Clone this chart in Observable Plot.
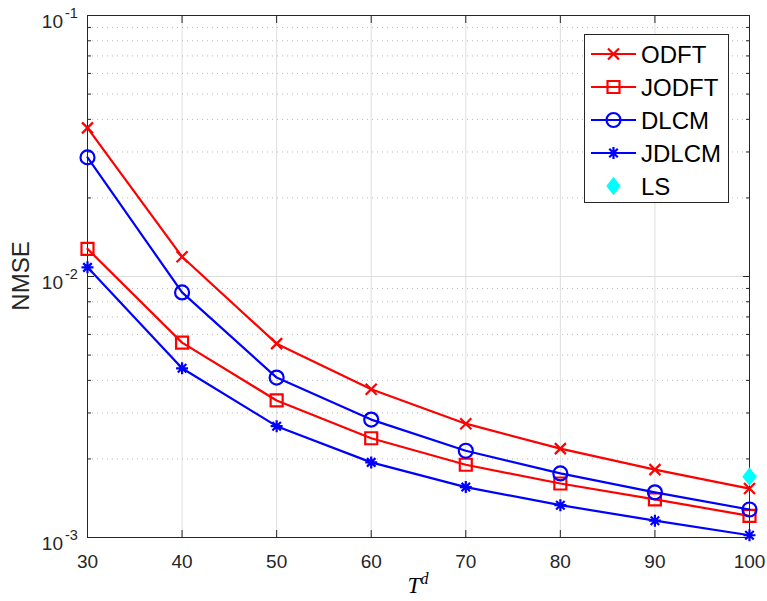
<!DOCTYPE html>
<html>
<head>
<meta charset="utf-8">
<script src="https://cdn.jsdelivr.net/npm/d3@7"></script>
<script src="https://cdn.jsdelivr.net/npm/@observablehq/plot@0.6"></script>
<style>
  html, body { margin: 0; padding: 0; background: #fff; overflow: hidden; }
  #chart { width: 767px; height: 601px; }
</style>
</head>
<body>
<div id="chart"></div>
<script>
// ---- data ----
const tdValues = [30, 40, 50, 60, 70, 80, 90, 100];
const odft  = [0.0371, 0.0119, 0.00553, 0.00370, 0.00273, 0.00219, 0.00182, 0.00154];
const jodft = [0.01276, 0.00558, 0.00335, 0.00240, 0.00190, 0.00161, 0.00140, 0.00121];
const dlcm  = [0.0286, 0.00869, 0.00410, 0.00283, 0.00215, 0.00176, 0.00149, 0.00128];
const jdlcm = [0.01084, 0.00445, 0.00267, 0.00194, 0.00156, 0.00133, 0.00116, 0.00102];
const lsX = [100];
const lsY = [0.00171];
const seriesNames = ["ODFT", "JODFT", "DLCM", "JDLCM", "LS"];
const xTicks = [30, 40, 50, 60, 70, 80, 90, 100];
const yMajor = [1e-3, 1e-2, 1e-1];
const yMinor = [2,3,4,5,6,7,8,9].flatMap(m => [m * 1e-3, m * 1e-2]);

// ---- symbols ----
const rad = s => Math.sqrt(s / Math.PI);
const symCross = {draw(c, s) { const a = rad(s); c.moveTo(-a,-a); c.lineTo(a,a); c.moveTo(-a,a); c.lineTo(a,-a); }};
const symSquare = {draw(c, s) { const a = rad(s); c.moveTo(-a,-a); c.lineTo(a,-a); c.lineTo(a,a); c.lineTo(-a,a); c.closePath(); }};
const symCircle = {draw(c, s) { const a = rad(s); c.moveTo(a,0); c.arc(0,0,a,0,2*Math.PI); }};
const symStar = {draw(c, s) { const a = rad(s), d = a*Math.SQRT1_2;
  c.moveTo(-a,0); c.lineTo(a,0); c.moveTo(0,-a); c.lineTo(0,a);
  c.moveTo(-d,-d); c.lineTo(d,d); c.moveTo(-d,d); c.lineTo(d,-d); }};
const symDiamond = {draw(c, s) { const a = rad(s), h = a*1.3; c.moveTo(0,-h); c.lineTo(a,0); c.lineTo(0,h); c.lineTo(-a,0); c.closePath(); }};

const series = [
  {name: seriesNames[0], values: odft,  color: "#ff0000", symbol: symCross,  r: 5.5},
  {name: seriesNames[1], values: jodft, color: "#ff0000", symbol: symSquare, r: 6},
  {name: seriesNames[2], values: dlcm,  color: "#0000ff", symbol: symCircle, r: 7},
  {name: seriesNames[3], values: jdlcm, color: "#0000ff", symbol: symStar,   r: 6}
];
const rows = series.flatMap(s => s.values.map((v, i) => ({x: tdValues[i], y: v, name: s.name})));
const lsRows = lsX.map((x, i) => ({x, y: lsY[i]}));

const axisColor = "#262626";
const marks = [
  Plot.ruleX(xTicks, {stroke: "#dedede", strokeWidth: 1}),
  Plot.ruleY([1e-2], {stroke: "#dedede", strokeWidth: 1}),
  Plot.ruleY(yMinor, {stroke: "#b8b8b8", strokeWidth: 1, strokeDasharray: "1,4"}),
  // tick marks (inside, MATLAB style)
  Plot.axisX(xTicks, {anchor: "bottom", tickSize: -7, tickFormat: () => "", label: null, stroke: axisColor}),
  Plot.axisX(xTicks, {anchor: "top", tickSize: -7, tickFormat: () => "", label: null, stroke: axisColor}),
  Plot.axisY(yMajor, {anchor: "left", tickSize: -7, tickFormat: () => "", label: null, stroke: axisColor}),
  Plot.axisY(yMinor, {anchor: "left", tickSize: -4, tickFormat: () => "", label: null, stroke: axisColor}),
  Plot.axisY(yMajor, {anchor: "right", tickSize: -7, tickFormat: () => "", label: null, stroke: axisColor}),
  Plot.axisY(yMinor, {anchor: "right", tickSize: -4, tickFormat: () => "", label: null, stroke: axisColor}),
  // x tick labels
  Plot.axisX(xTicks, {anchor: "bottom", tickSize: 0, tickPadding: 17, fontSize: 19, label: null, fill: axisColor, tickFormat: d => String(d)}),
  // y tick labels 10^k
  Plot.text(yMajor, {frameAnchor: "left", y: d => d, text: () => "10", dx: -24.5, dy: 6.5, textAnchor: "end", fontSize: 19, fill: axisColor}),
  Plot.text(yMajor, {frameAnchor: "left", y: d => d, text: d => String(Math.round(Math.log10(d))), dx: -22.5, dy: -2, textAnchor: "start", fontSize: 14.5, fill: axisColor}),
  Plot.frame({stroke: axisColor, strokeWidth: 1})
];
for (const s of series) {
  const data = rows.filter(r => r.name === s.name);
  marks.push(Plot.line(data, {x: "x", y: "y", stroke: s.color, strokeWidth: 2.2}));
  marks.push(Plot.dot(data, {x: "x", y: "y", stroke: s.color, fill: "none", strokeWidth: 2.2, symbol: s.symbol, r: s.r}));
}
marks.push(Plot.dot(lsRows, {x: "x", y: "y", fill: "#00ffff", stroke: "none", symbol: symDiamond, r: 7.2}));

const chart = Plot.plot({
  width: 767,
  height: 601,
  marginLeft: 87,
  marginRight: 18,
  marginTop: 15,
  marginBottom: 64,
  x: {domain: [30, 100], axis: null},
  y: {type: "log", domain: [1e-3, 1e-1], axis: null},
  style: {fontFamily: "'Liberation Sans', Arial, Helvetica, sans-serif", background: "#fff", overflow: "visible"},
  marks
});
document.getElementById("chart").appendChild(chart);

// ---- axis titles & legend ----
const svg = d3.select(chart);
svg.append("text")
  .attr("transform", "translate(29,276) rotate(-90)")
  .attr("text-anchor", "middle")
  .attr("font-size", 24)
  .attr("fill", axisColor)
  .attr("font-family", "'Liberation Sans', Arial, sans-serif")
  .text("NMSE");
const xl = svg.append("text")
  .attr("x", 418).attr("y", 593)
  .attr("text-anchor", "middle")
  .attr("font-family", "'Liberation Serif', 'DejaVu Serif', serif")
  .attr("font-style", "italic")
  .attr("font-size", 23)
  .attr("fill", "#000");
xl.append("tspan").text("T");
xl.append("tspan").attr("dy", -9).attr("font-size", 16).text("d");

const lg = svg.append("g");
lg.append("rect").attr("x", 584.5).attr("y", 34.5).attr("width", 144).attr("height", 168)
  .attr("fill", "#fff").attr("stroke", axisColor).attr("stroke-width", 1);
const entries = [...series, {name: seriesNames[4], color: "#00ffff", symbol: symDiamond, r: 7.2, filled: true, noLine: true}];
entries.forEach((e, i) => {
  const cy = 54 + i * 33;
  if (!e.noLine) lg.append("line").attr("x1", 591).attr("x2", 636).attr("y1", cy).attr("y2", cy)
    .attr("stroke", e.color).attr("stroke-width", 2.2);
  lg.append("path").attr("transform", `translate(613.5,${cy})`)
    .attr("d", d3.symbol().type(e.symbol).size(Math.PI * e.r * e.r)())
    .attr("fill", e.filled ? e.color : "none")
    .attr("stroke", e.filled ? "none" : e.color).attr("stroke-width", 2.2);
  lg.append("text").attr("x", 641).attr("y", cy).attr("dy", "0.36em")
    .attr("text-anchor", "start")
    .attr("font-size", 24).attr("fill", "#000")
    .attr("font-family", "'Liberation Sans', Arial, sans-serif")
    .text(e.name);
});
</script>
</body>
</html>
